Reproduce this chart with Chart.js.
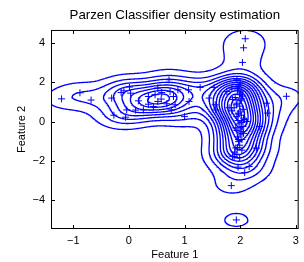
<!DOCTYPE html>
<html>
<head>
<meta charset="utf-8">
<script src="https://cdn.jsdelivr.net/npm/chart.js@4"></script>
<style>
  html, body { margin: 0; padding: 0; background: #fff; }
  canvas { display: block; }
</style>
</head>
<body>
<canvas id="parzenChart" width="304" height="262"></canvas>
<script>
// Scatter points
const feature1 = [-1.21, -0.88, -0.68, -0.31, -0.14, -0.09, 0.01, 0.03, -0.04, -0.27, -0.06, 0.12, 0.17, 0.35, 0.35,
    0.44, 0.52, 0.58, 0.59, 0.52, 0.72, 0.68, 0.80, 0.88, 0.83, 1.00, 1.07, 1.28, 1.44, 1.53, 1.55, 1.56, 1.76,
    0.26, 0.76, 1.08, 0.47, 0.74, 2.09, 2.06, 2.04, 2.83, 2.00, 1.97, 2.03, 1.99, 2.04, 1.86, 1.89, 1.99, 2.00,
    1.80, 2.02, 2.08, 1.92, 2.03, 1.97, 1.92, 1.94, 1.86, 1.91, 1.94, 1.85, 1.97, 2.06, 2.11, 2.47, 2.49, 2.03,
    1.97, 1.95, 1.99, 1.89, 2.29, 1.96, 2.16, 2.08, 1.84, 1.93, 1.94, 1.85, 1.94, 2.00, 1.98, 2.35,
    1.98, 2.05, 2.00, 1.95, 1.95, 2.02, 1.93, 2.05, 1.96, 2.02, 1.94, 2.06, 1.99, 2.03, 1.90, 2.00, 1.96, 2.01];
const feature2 = [1.15, 1.46, 1.09, 1.19, 1.47, 1.56, 1.75, 1.44, 0.59, 0.32, 0.22, 0.58, 1.05, 1.27, 0.88,
    0.76, 1.02, 1.14, 1.47, 1.70, 2.12, 0.90, 1.27, 1.61, 0.85, 0.25, 1.61, 1.73, 1.19, 1.73, 0.85, 0.59, 1.52,
    0.59, 0.59, 1.02, 1.36, 1.52, 4.20, 3.74, 3.00, 1.28, 1.96, 1.71, 1.54, 1.37, 1.29, 1.12, 0.70, 0.78, 0.53,
    0.70, 0.32, 0.10, -0.32, -0.91, -0.91, -1.34, -1.67, -1.76, 1.22, 0.93, 0.54, 0.43, 0.17, 0.00, 0.93, 0.43, -0.51,
    -1.02, -1.32, -1.83, -1.78, -1.35, -2.31, -2.28, -2.59, -3.25, -4.99, 2.12, 1.70, 0.25, 1.05, 1.85, -0.25,
    -0.12, -0.25, -0.68, -0.78, 1.60, 1.15, 0.85, 0.62, 0.05, -0.05, -0.45, -0.60, -1.20, -1.45, -1.55, 1.45, 0.38, -0.38];

const xTicks = [-1, 0, 1, 2, 3];
const yTicks = [-4, -2, 0, 2, 4];
const xRange = [-1.40, 3.05];
const yRange = [-5.45, 4.645];

// Parzen kernel widths (feature 1, feature 2); contour levels in units of one kernel peak
const kernelWidth = [0.28, 0.44];
const firstLevel = 0.763;
const levelStep = 1.3;

const blue = 'rgb(0, 0, 255)';
const fontFamily = '"Liberation Sans", Arial, Helvetica, sans-serif';

function parzenDensity(x, y) {
    let sum = 0;
    for (let k = 0; k < feature1.length; k++) {
        const dx = (x - feature1[k]) / kernelWidth[0];
        const dy = (y - feature2[k]) / kernelWidth[1];
        sum += Math.exp(-0.5 * (dx * dx + dy * dy));
    }
    return sum;
}

// Evaluate the density on a grid over the axes
const nx = 220, ny = 260;
const gx = [], gy = [];
for (let i = 0; i <= nx; i++) gx.push(xRange[0] + (xRange[1] - xRange[0]) * i / nx);
for (let j = 0; j <= ny; j++) gy.push(yRange[0] + (yRange[1] - yRange[0]) * j / ny);
const grid = gx.map(x => gy.map(y => parzenDensity(x, y)));
let maxDensity = 0;
grid.forEach(col => col.forEach(v => { if (v > maxDensity) maxDensity = v; }));

// Marching squares, one dataset per level, segments separated by gaps
function contourLine(level) {
    const data = [];
    const push = (p, q) => { data.push(p, q, {x: q.x, y: null}); };
    for (let i = 0; i < nx; i++) {
        for (let j = 0; j < ny; j++) {
            const a = grid[i][j], b = grid[i + 1][j], c = grid[i + 1][j + 1], d = grid[i][j + 1];
            const idx = (a > level ? 1 : 0) | (b > level ? 2 : 0) | (c > level ? 4 : 0) | (d > level ? 8 : 0);
            if (idx === 0 || idx === 15) continue;
            const x0 = gx[i], x1 = gx[i + 1], y0 = gy[j], y1 = gy[j + 1];
            const B = () => ({x: x0 + (level - a) / (b - a) * (x1 - x0), y: y0});
            const R = () => ({x: x1, y: y0 + (level - b) / (c - b) * (y1 - y0)});
            const T = () => ({x: x0 + (level - d) / (c - d) * (x1 - x0), y: y1});
            const L = () => ({x: x0, y: y0 + (level - a) / (d - a) * (y1 - y0)});
            if (idx === 5 || idx === 10) {
                const centerHigh = (a + b + c + d) / 4 > level;
                if ((idx === 5) === centerHigh) { push(B(), R()); push(T(), L()); }
                else { push(B(), L()); push(R(), T()); }
                continue;
            }
            const hits = [];
            if ((a > level) !== (b > level)) hits.push(B());
            if ((b > level) !== (c > level)) hits.push(R());
            if ((c > level) !== (d > level)) hits.push(T());
            if ((d > level) !== (a > level)) hits.push(L());
            if (hits.length === 2) push(hits[0], hits[1]);
        }
    }
    return data;
}

const datasets = [];
for (let level = firstLevel; level < maxDensity; level += levelStep) {
    datasets.push({
        data: contourLine(level),
        showLine: true,
        spanGaps: false,
        borderColor: blue,
        borderWidth: 1.3,
        borderCapStyle: 'round',
        pointRadius: 0,
        pointHoverRadius: 0
    });
}
datasets.push({
    data: feature1.map((x, k) => ({x: x, y: feature2[k]})),
    pointStyle: 'cross',
    pointRadius: 3.5,
    borderColor: blue,
    borderWidth: 1
});

const fmt = v => (v < 0 ? '\u2212' + Math.abs(v) : String(v));

// Box round the axes with MATLAB-style inward ticks
const axesBox = {
    id: 'axesBox',
    afterDraw(chart) {
        const {ctx, chartArea: a, scales} = chart;
        ctx.save();
        ctx.strokeStyle = '#000';
        ctx.lineWidth = 1;
        ctx.strokeRect(a.left + 0.5, a.top + 0.5, a.right - a.left - 1, a.bottom - a.top - 1);
        ctx.beginPath();
        xTicks.forEach(v => {
            const px = Math.round(scales.x.getPixelForValue(v)) + 0.5;
            ctx.moveTo(px, a.bottom - 1); ctx.lineTo(px, a.bottom - 4);
            ctx.moveTo(px, a.top + 1); ctx.lineTo(px, a.top + 4);
        });
        yTicks.forEach(v => {
            const py = Math.round(scales.y.getPixelForValue(v)) + 0.5;
            ctx.moveTo(a.left + 1, py); ctx.lineTo(a.left + 4, py);
            ctx.moveTo(a.right - 1, py); ctx.lineTo(a.right - 4, py);
        });
        ctx.stroke();
        ctx.restore();
    }
};

Chart.defaults.font.family = fontFamily;
Chart.defaults.color = '#000';

new Chart(document.getElementById('parzenChart'), {
    type: 'scatter',
    data: {datasets: datasets},
    options: {
        responsive: false,
        animation: false,
        events: [],
        layout: {padding: {left: 0, right: 1, top: 0, bottom: 0}},
        plugins: {
            legend: {display: false},
            tooltip: {enabled: false},
            title: {
                display: true,
                fullSize: false,
                text: 'Parzen Classifier density estimation',
                font: {size: 13.3, weight: 'normal'},
                color: '#000',
                padding: {top: 7, bottom: 7}
            }
        },
        scales: {
            x: {
                type: 'linear',
                min: xRange[0],
                max: xRange[1],
                afterBuildTicks: s => { s.ticks = xTicks.map(v => ({value: v})); },
                afterFit: s => { s.height = 33; },
                ticks: {callback: fmt, font: {size: 11}, padding: 5, maxRotation: 0, autoSkip: false},
                grid: {display: false, drawTicks: false},
                border: {display: false},
                title: {display: true, text: 'Feature 1', font: {size: 11}, padding: {top: 0, bottom: 0}}
            },
            y: {
                type: 'linear',
                min: yRange[0],
                max: yRange[1],
                afterBuildTicks: s => { s.ticks = yTicks.map(v => ({value: v})); },
                afterFit: s => { s.width = 51; },
                ticks: {callback: fmt, font: {size: 11}, padding: 6, autoSkip: false},
                grid: {display: false, drawTicks: false},
                border: {display: false},
                title: {display: true, text: 'Feature 2', font: {size: 11}, padding: {top: 15, bottom: 0}}
            }
        }
    },
    plugins: [axesBox]
});
</script>
</body>
</html>
